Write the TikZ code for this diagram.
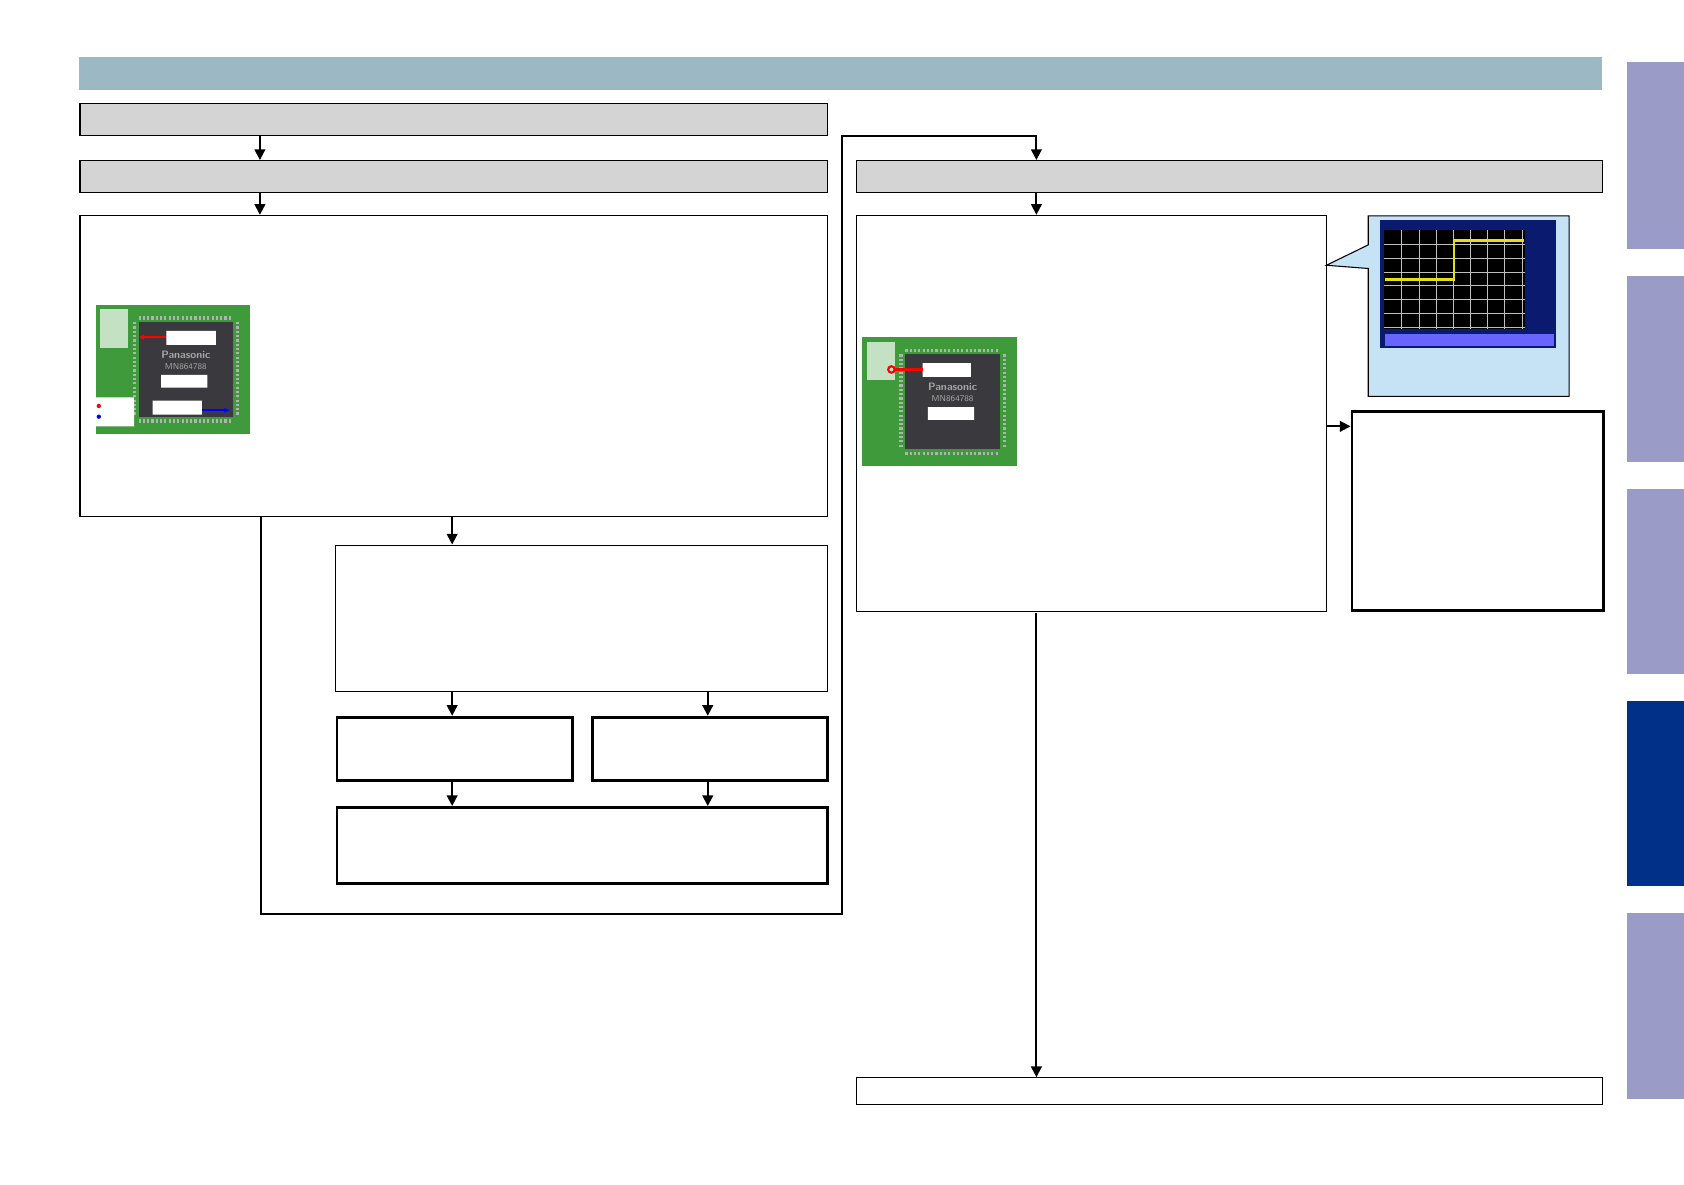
\documentclass[tikz,border=0pt]{standalone}
\usetikzlibrary{arrows.meta}
\definecolor{hdr}{HTML}{9BB8C3}
\definecolor{tab}{HTML}{9B9BC8}
\definecolor{tabd}{HTML}{003087}
\definecolor{gbox}{HTML}{D4D4D4}
\definecolor{pcb}{HTML}{3E9A3A}
\definecolor{ic}{HTML}{3A3A3E}
\definecolor{call}{HTML}{C5E3F5}
\definecolor{scr}{HTML}{0A1A6E}
\tikzset{
 thin box/.style={draw=black,line width=0.5pt},
 thick box/.style={draw=black,line width=1.3pt},
 graybox/.style={draw=black,fill=gbox,line width=0.5pt},
 conn/.style={line width=0.9pt,-{Triangle[length=5pt,width=5pt]}},
}
\newcommand{\chip}[2]{%
 \begin{scope}[shift={(#1,#2)}]
 \fill[pcb] (0,0) rectangle (144,120);
 \fill[white!70!pcb] (4,4) rectangle (30,40);
 \fill[ic] (40,16) rectangle (128,104);
 \draw[gray!60,line width=1.5pt,dash pattern=on 1pt off 1pt] (40,12)--(128,12) (40,108)--(128,108) (36,16)--(36,104) (132,16)--(132,104);
 \node[text=gray!70,font=\sffamily\bfseries\fontsize{5}{5}\selectfont] at (84,46) {Panasonic};
 \node[text=gray!70,font=\sffamily\fontsize{4}{4}\selectfont] at (84,57) {MN864788};
 \end{scope}}
\begin{document}
\begin{tikzpicture}[x=0.5pt,y=-0.5pt]
\useasboundingbox[fill=white] (0,0) rectangle (1568,1103);
\fill[hdr] (74,53) rectangle (1492,84);
\foreach \a/\b in {58/232,257/430,455/628,850/1023} \fill[tab] (1515,\a) rectangle (1568,\b);
\fill[tabd] (1515,653) rectangle (1568,825);
\node[graybox,minimum width=348pt,minimum height=15pt,anchor=north west,inner sep=0] (A) at (74,96) {};
\node[graybox,minimum width=348pt,minimum height=15pt,anchor=north west,inner sep=0] (B) at (74,149) {};
\node[thin box,minimum width=348pt,minimum height=140pt,anchor=north west,inner sep=0] (C) at (74,200) {};
\node[thin box,minimum width=229pt,minimum height=68pt,anchor=north west,inner sep=0] (D) at (312,507) {};
\node[thick box,minimum width=109.5pt,minimum height=29.5pt,anchor=north west,inner sep=0] (E) at (312.5,666.5) {};
\node[thick box,minimum width=109.5pt,minimum height=29.5pt,anchor=north west,inner sep=0] (F) at (550.5,666.5) {};
\node[thick box,minimum width=228.5pt,minimum height=35.5pt,anchor=north west,inner sep=0] (G) at (312.5,750.5) {};
\node[graybox,minimum width=347.5pt,minimum height=15pt,anchor=north west,inner sep=0] (H) at (797,149) {};
\node[thin box,minimum width=219pt,minimum height=184.5pt,anchor=north west,inner sep=0] (I) at (797,200) {};
\node[thick box,minimum width=117pt,minimum height=93pt,anchor=north west,inner sep=0] (J) at (1257.5,381.5) {};
\node[thin box,minimum width=347.5pt,minimum height=12.5pt,anchor=north west,inner sep=0] (K) at (797,1003) {};
% chips
\chip{89}{284}
\fill[white] (155,308) rectangle (201,321) (150,349) rectangle (193,361) (142,373) rectangle (188,386) (89,370) rectangle (125,397);
\fill[red] (92,378) circle (2); \fill[blue] (92,388) circle (2);
\draw[red,line width=1pt,-{Latex[length=3pt]}] (155,314)--(128,314);
\draw[blue,line width=1pt,-{Latex[length=3pt]}] (188,382)--(215,382);
\chip{803}{314}
\fill[white] (859,338) rectangle (904,351) (864,379) rectangle (907,391);
\draw[red,line width=1pt] (830,344) circle (3);
\draw[red,line width=1pt] (833,344)--(859,344);
% callout
\fill[call,draw=black,line width=0.5pt] (1274,201)--(1461,201)--(1461,369)--(1274,369)--(1274,250)--(1235,247)--(1274,228)--cycle;
\fill[scr] (1285,205) rectangle (1449,324);
\fill[black] (1289,214) rectangle (1420,306);
\foreach \gx in {1305,1321,...,1417} \draw[gray!50,line width=0.2pt] (\gx,214)--(\gx,306);
\foreach \gy in {227,240,...,305} \draw[gray!50,line width=0.2pt] (1289,\gy)--(1420,\gy);
\draw[yellow!90!black,line width=1.2pt] (1290,260)--(1354,260)--(1354,224)--(1419,224);
\fill[blue!60] (1290,311) rectangle (1447,322);
% connectors
\draw[conn] (A.south -| 242,0) -- (B.north -| 242,0);
\draw[conn] (B.south -| 242,0) -- (C.north -| 242,0);
\draw[conn] (C.south -| 421,0) -- (D.north -| 421,0);
\draw[conn] (D.south -| 421,0) -- (E.north -| 421,0);
\draw[conn] (D.south -| 659,0) -- (F.north -| 659,0);
\draw[conn] (E.south -| 421,0) -- (G.north -| 421,0);
\draw[conn] (F.south -| 659,0) -- (G.north -| 659,0);
\draw[conn] (C.south -| 243,0) -- (243,851) -- (784,851) -- (784,127) -- (965,127) -- (H.north -| 965,0);
\draw[conn] (H.south -| 965,0) -- (I.north -| 965,0);
\draw[conn] (I.east |- 0,397) -- (J.west |- 0,397);
\draw[conn] (965,571) -- (K.north -| 965,0);
\end{tikzpicture}
\end{document}
